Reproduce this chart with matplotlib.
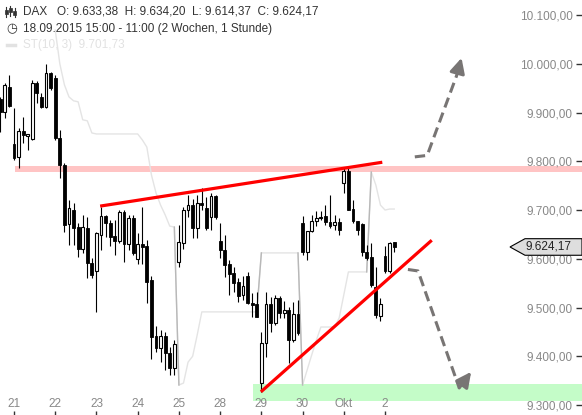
import matplotlib
matplotlib.use("Agg")
import matplotlib.pyplot as plt
import matplotlib.transforms as mtransforms
from matplotlib.patches import Polygon, Rectangle
from matplotlib.lines import Line2D
import numpy as np

plt.rcParams["font.family"] = ["Liberation Sans", "DejaVu Sans"]

# hourly candles, 18.09.2015 15:00 ... 02.10.2015 11:00
opens = [9928, 9901, 9952, 9836, 9809, 9862, 9852, 9846, 9960, 9932, 9911, 9981,
         9971, 9848, 9792, 9671, 9700, 9665, 9620, 9663, 9591,
         9575, 9649, 9688, 9673, 9647, 9636, 9696, 9630, 9684,
         9600, 9630, 9626, 9556, 9442, 9417, 9442, 9407, 9376,
         9593, 9632, 9700, 9710, 9663, 9714, 9704, 9686, 9729,
         9636, 9618, 9589, 9571, 9552, 9526, 9565, 9509, 9507,
         9345, 9427, 9507, 9468, 9519, 9489, 9495, 9433, 9487,
         9673, 9614, 9657, 9677, 9684, 9688, 9675, 9669, 9675,
         9755, 9780, 9702, 9677, 9671, 9614, 9603, 9542, 9483,
         9606, 9575, 9633.38]
highs = [9932, 9960, 9977, 9909, 9868, 9891, 9856, 9967, 9964, 9940, 9999, 9983,
         9977, 9864, 9796, 9721, 9714, 9673, 9690, 9686, 9601,
         9655, 9707, 9690, 9680, 9680, 9700, 9700, 9690, 9690,
         9653, 9707, 9639, 9565, 9462, 9453, 9449, 9419, 9433,
         9669, 9706, 9731, 9723, 9731, 9745, 9727, 9735, 9731,
         9673, 9648, 9597, 9583, 9560, 9564, 9572, 9530, 9532,
         9450, 9532, 9522, 9526, 9524, 9513, 9501, 9511, 9515,
         9688, 9657, 9690, 9698, 9698, 9710, 9730, 9690, 9683,
         9786, 9786, 9720, 9677, 9673, 9628, 9632, 9583, 9519,
         9626, 9634, 9634.20]
lows = [9860, 9889, 9911, 9803, 9786, 9837, 9823, 9844, 9920, 9909, 9909, 9946,
        9844, 9766, 9655, 9628, 9628, 9603, 9612, 9561, 9561,
        9491, 9618, 9645, 9626, 9608, 9632, 9593, 9618, 9608,
        9589, 9589, 9509, 9394, 9408, 9388, 9372, 9361, 9361,
        9583, 9620, 9685, 9643, 9643, 9700, 9659, 9659, 9681,
        9601, 9562, 9525, 9532, 9511, 9515, 9507, 9480, 9480,
        9327, 9398, 9449, 9464, 9479, 9479, 9386, 9429, 9444,
        9608, 9597, 9655, 9667, 9679, 9669, 9663, 9659, 9649,
        9735, 9700, 9673, 9649, 9605, 9597, 9542, 9478, 9472,
        9571, 9571, 9614.37]
closes = [9901, 9956, 9913, 9807, 9862, 9854, 9856, 9960, 9940, 9911, 9981, 9950,
          9848, 9792, 9669, 9704, 9663, 9620, 9665, 9591, 9567,
          9653, 9688, 9673, 9645, 9636, 9696, 9630, 9684, 9612,
          9630, 9624, 9552, 9439, 9417, 9442, 9407, 9376, 9425,
          9634, 9700, 9710, 9663, 9714, 9710, 9663, 9729, 9686,
          9618, 9587, 9569, 9550, 9524, 9544, 9509, 9505, 9481,
          9427, 9507, 9468, 9519, 9489, 9495, 9433, 9487, 9448,
          9614, 9657, 9677, 9683, 9686, 9675, 9667, 9675, 9659,
          9780, 9700, 9677, 9659, 9614, 9601, 9546, 9485, 9507,
          9575, 9632, 9624.17]

# SuperTrend(10, 3)
st_values = [np.nan] * 12 + [
    10069, 10000, 9957, 9932, 9924, 9922, 9885, 9883, 9858,
    9856, 9856, 9856, 9856, 9856, 9856, 9856, 9856, 9856,
    9856, 9844, 9829, 9772, 9735, 9710, 9690, 9667, 9665,
    9341, 9345, 9388, 9400, 9444, 9491, 9491, 9491, 9491,
    9491, 9491, 9491, 9491, 9491, 9491, 9491, 9491, 9491,
    9612, 9612, 9612, 9612, 9612, 9612, 9612, 9612, 9612,
    9341, 9372, 9403, 9433, 9460, 9460, 9460, 9460, 9479,
    9526, 9573, 9573, 9573, 9573, 9573, 9778, 9751, 9710,
    9700, 9702, 9702]
st_flips = [39, 57, 66, 81]

day_ticks = [3, 12, 21, 30, 39, 48, 57, 66, 75, 84]
day_labels = ["21", "22", "23", "24", "25", "28", "29", "30", "Okt", "2"]
price_ticks = [9300, 9400, 9500, 9600, 9700, 9800, 9900, 10000, 10100]

resistance_band = (9777, 9791)
support_band = (9308, 9343)
upper_trend = ([21.8, 83.4], [9708, 9798])
lower_trend = ([56.9, 94.2], [9327, 9638])
up_path = ([90.5, 93.2, 99.6], [9809, 9812, 9975])
up_tip = (100.7, 10012)
down_path = ([89.0, 91.2, 100.2], [9578, 9575, 9335])
down_tip = (102.8, 9368)
last_price = 9624.17


def de(v):
    s = f"{v:,.2f}"
    return s.replace(",", "X").replace(".", ",").replace("X", ".")


W, H = 582, 415
fig = plt.figure(figsize=(W / 100, H / 100), dpi=100)
ax = fig.add_axes([0, 0, 1, 1])
ax.set_xlim(-0.06, 127.0)
ax.set_ylim(9279.5, 10130.8)
for s in ax.spines.values():
    s.set_visible(False)

# zones
ax.axhspan(*resistance_band, xmin=15 / W, xmax=1, color="#ffc4c4", lw=0, zorder=1)
ax.axhspan(*support_band, xmin=253 / W, xmax=1, color="#c4fcc8", lw=0, zorder=1)

# supertrend
xs = np.arange(len(st_values))
st = np.array(st_values, dtype=float)
ax.plot(xs, st, color="#e4e4e4", lw=1.0, zorder=2)
for f in st_flips:
    ax.plot([f - 1, f], [st[f - 1], st[f]], color="#b8b8b8", lw=1.0, zorder=2)

# candles
x = np.arange(len(opens))
o = np.array(opens, dtype=float)
c = np.array(closes, dtype=float)
up = c >= o
ax.vlines(x, lows, highs, color="black", lw=0.8, zorder=3)
bottom = np.minimum(o, c)
height = np.maximum(np.abs(c - o), 1.5)
ax.bar(x[up], height[up], bottom=bottom[up], width=0.62, color="white",
       edgecolor="black", linewidth=0.8, zorder=4)
ax.bar(x[~up], height[~up], bottom=bottom[~up], width=0.62, color="black",
       edgecolor="black", linewidth=0.6, zorder=4)

# trend lines
ax.plot(*upper_trend, color="#ff0000", lw=2.3, solid_capstyle="butt", zorder=5)
ax.plot(*lower_trend, color="#ff0000", lw=2.3, solid_capstyle="butt", zorder=5)

# scenario arrows
grey = "#787574"
ax.plot(*up_path, color=grey, lw=2.2, ls=(0, (3.4, 1.8)), zorder=5)
ax.annotate("", xy=up_tip, xytext=(up_path[0][-1], up_path[1][-1]),
            arrowprops=dict(arrowstyle="-|>,head_length=0.9,head_width=0.45",
                            color=grey, lw=2.2, shrinkA=0, shrinkB=0), zorder=5)
ax.plot(*down_path, color=grey, lw=2.2, ls=(0, (3.4, 1.8)), zorder=5)
ax.annotate("", xy=down_tip, xytext=(down_path[0][-1], down_path[1][-1]),
            arrowprops=dict(arrowstyle="-|>,head_length=0.9,head_width=0.45",
                            color=grey, lw=2.2, shrinkA=0, shrinkB=0), zorder=5)

# axes ticks
ax.set_xticks(day_ticks)
ax.set_xticklabels(day_labels)
ax.tick_params(axis="x", direction="in", length=3, width=1, color="#333333",
               pad=-12.5, labelsize=8.5, labelcolor="#888888")
ax.yaxis.tick_right()
ax.set_yticks(price_ticks)
ax.set_yticklabels([de(v) for v in price_ticks])
ax.tick_params(axis="y", direction="in", length=4, width=1, color="#333333",
               pad=-6.5, labelsize=8.5, labelcolor="#888888")
for lab in ax.get_yticklabels():
    lab.set_horizontalalignment("right")

# last price tag
tr = mtransforms.blended_transform_factory(ax.transAxes, ax.transData)
half = 17
tag = Polygon([(510 / W, last_price), (525 / W, last_price + half), (1.0, last_price + half),
               (1.0, last_price - half), (525 / W, last_price - half)],
              closed=True, transform=tr, facecolor="#dedede", edgecolor="black",
              lw=0.8, zorder=6, clip_on=False)
ax.add_patch(tag)
ax.text(549 / W, last_price, de(last_price), transform=tr, ha="center", va="center",
        fontsize=8.5, color="#222222", zorder=7)


# header
def px(xp, yp):
    return xp / W, 1 - yp / H


fig.text(*px(23, 12), "DAX   O: 9.633,38  H: 9.634,20  L: 9.614,37  C: 9.624,17",
         fontsize=8.5, color="#333333", va="center")
fig.text(*px(6, 29), "\u25F7", fontsize=9, color="#333333", va="center",
         family="DejaVu Sans")
fig.text(*px(23, 29), "18.09.2015 15:00 - 11:00 (2 Wochen, 1 Stunde)",
         fontsize=8.5, color="#333333", va="center")
fig.text(*px(23, 45), "ST(10, 3)  9.701,73", fontsize=8.5, color="#e2e2e2", va="center")
fig.add_artist(Line2D([7 / W, 15 / W], [1 - 45 / H, 1 - 45 / H], color="#e2e2e2", lw=2.5))

# small candle icon
for cx, y0, y1, b0, b1 in [(6, 7, 17, 10, 14), (10.5, 6, 16, 8, 12), (15, 8, 17, 11, 15)]:
    fig.add_artist(Line2D([cx / W, cx / W], [1 - y0 / H, 1 - y1 / H], color="#333333", lw=0.8))
    fig.add_artist(Rectangle((cx / W - 1.5 / W, 1 - b1 / H), 3 / W, (b1 - b0) / H,
                             facecolor="#333333", edgecolor="#333333", lw=0.5))

fig.savefig("out.png", dpi=100)
